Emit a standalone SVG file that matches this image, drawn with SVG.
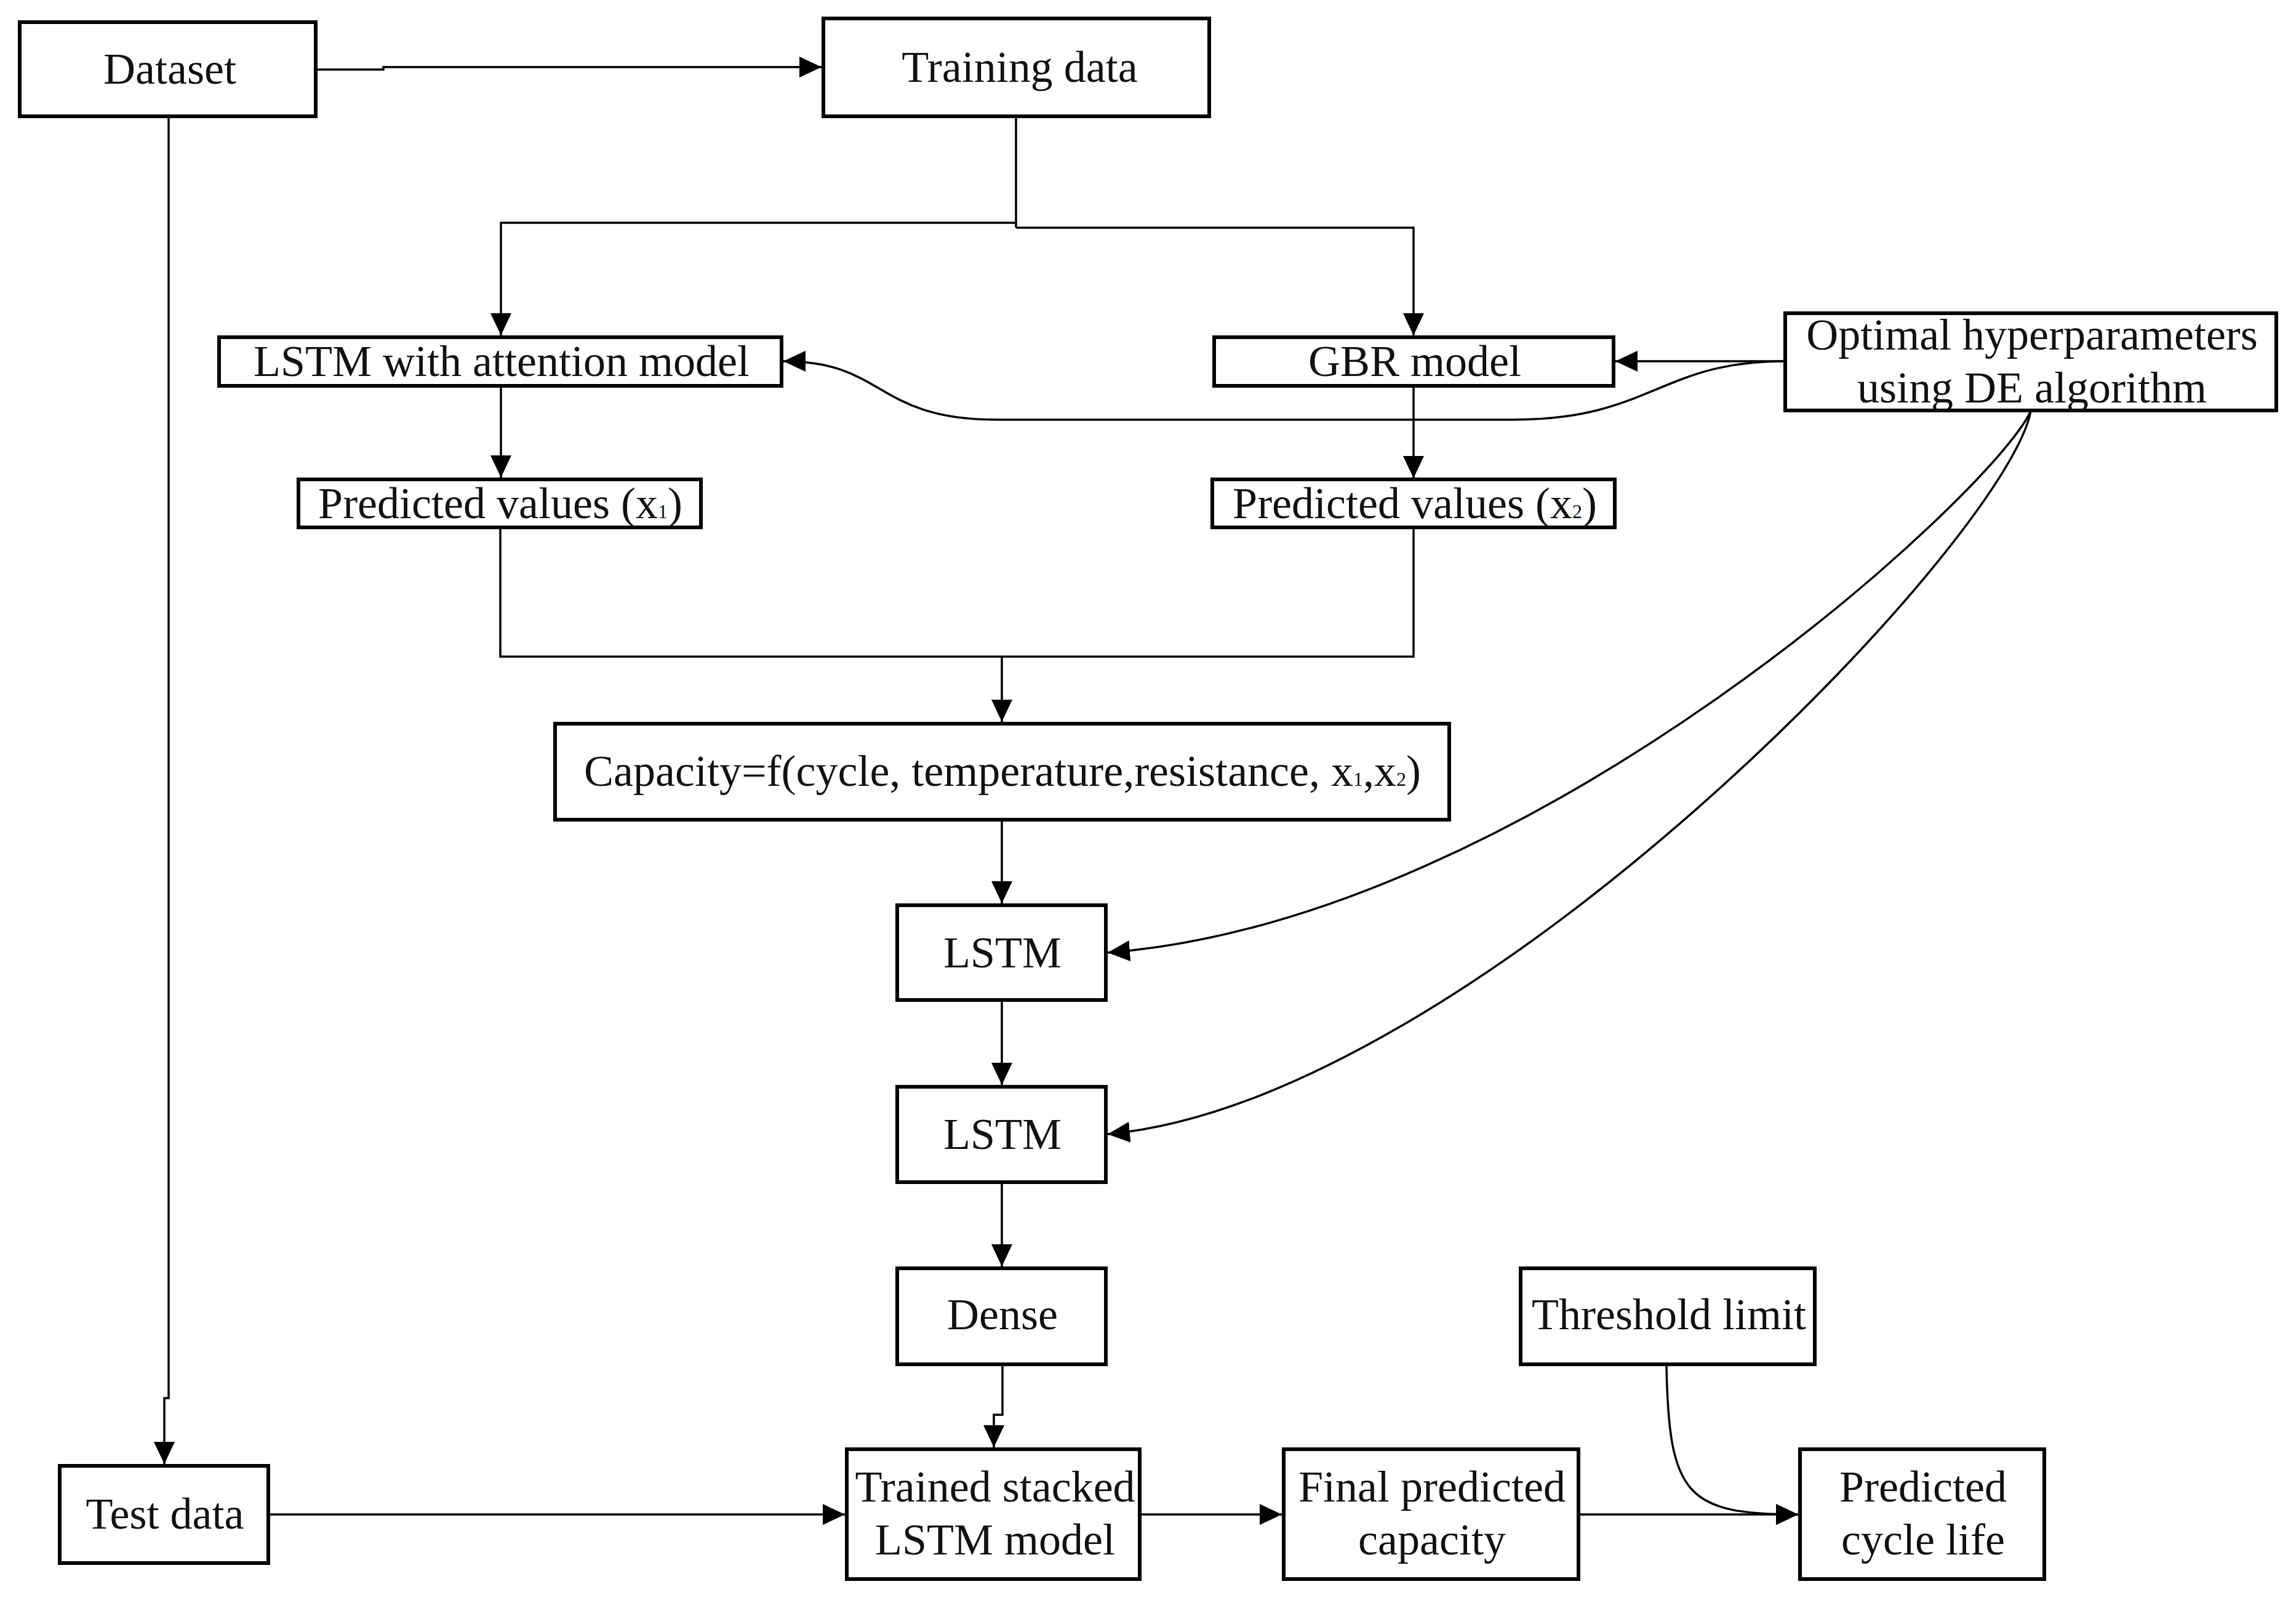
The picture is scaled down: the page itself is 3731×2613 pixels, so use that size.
<svg xmlns="http://www.w3.org/2000/svg" width="3731" height="2613" viewBox="0 0 3731 2613">
<style>
  .box { fill: #ffffff; stroke: #000000; stroke-width: 6; }
  .lbl { font-family: "Liberation Serif", "Times New Roman", serif; font-size: 72px; text-anchor: middle; fill: #111111; }
  .sub { font-size: 32px; }
  .conn { fill: none; stroke: #000000; stroke-width: 3.5; }
</style>
<defs>
  <marker id="arr" markerUnits="userSpaceOnUse" markerWidth="36" markerHeight="34" refX="36" refY="17" orient="auto">
    <path d="M0,0 L36,17 L0,34 Z" fill="#000000"/>
  </marker>
</defs>
<rect x="0" y="0" width="3731" height="2613" fill="#ffffff"/>

<g id="connectors">
  <path class="conn" d="M516,113 H623 V109 H1335" marker-end="url(#arr)"/>
  <path class="conn" d="M274,192 V2272 H267 V2379" marker-end="url(#arr)"/>
  <path class="conn" d="M1651,192 V370"/>
  <path class="conn" d="M1651,362 H814 V545" marker-end="url(#arr)"/>
  <path class="conn" d="M1651,370 H2297 V545" marker-end="url(#arr)"/>
  <path class="conn" d="M814,630 V776" marker-end="url(#arr)"/>
  <path class="conn" d="M2297,630 V777" marker-end="url(#arr)"/>
  <path class="conn" d="M813,860 V1067 H2297 V859"/>
  <path class="conn" d="M1628,1067 V1173" marker-end="url(#arr)"/>
  <path class="conn" d="M2898,587 H2625" marker-end="url(#arr)"/>
  <path class="conn" d="M2898,587 C2700,587 2680,682 2460,682 L1620,682 C1420,682 1440,587 1273,587" marker-end="url(#arr)"/>
  <path class="conn" d="M3300,668 C3240,800 2490,1495 1800,1548" marker-end="url(#arr)"/>
  <path class="conn" d="M3300,668 C3260,880 2390,1790 1800,1843" marker-end="url(#arr)"/>
  <path class="conn" d="M1628,1335 V1468" marker-end="url(#arr)"/>
  <path class="conn" d="M1628,1628 V1763" marker-end="url(#arr)"/>
  <path class="conn" d="M1628,1924 V2058" marker-end="url(#arr)"/>
  <path class="conn" d="M1629,2220 V2299 H1615 V2352" marker-end="url(#arr)"/>
  <path class="conn" d="M439,2461 H1373" marker-end="url(#arr)"/>
  <path class="conn" d="M1855,2461 H2083" marker-end="url(#arr)"/>
  <path class="conn" d="M2568,2461 H2922" marker-end="url(#arr)"/>
  <path class="conn" d="M2708,2220 C2712,2430 2740,2461 2922,2461" marker-end="url(#arr)"/>
</g>

<g id="dataset">
  <rect class="box" x="32" y="36" width="481" height="153"/>
  <text class="lbl" x="276" y="136">Dataset</text>
</g>
<g id="training-data">
  <rect class="box" x="1338" y="30" width="627" height="159"/>
  <text class="lbl" x="1657" y="133">Training data</text>
</g>
<g id="lstm-attention">
  <rect class="box" x="356" y="548" width="914" height="79"/>
  <text class="lbl" x="815" y="611">LSTM with attention model</text>
</g>
<g id="gbr-model">
  <rect class="box" x="1973" y="548" width="649" height="79"/>
  <text class="lbl" x="2299" y="611">GBR model</text>
</g>
<g id="optimal-hyperparameters">
  <rect class="box" x="2901" y="509" width="798" height="158"/>
  <text class="lbl" x="3302" y="568">Optimal hyperparameters</text>
  <text class="lbl" x="3302" y="654">using DE algorithm</text>
</g>
<g id="predicted-x1">
  <rect class="box" x="485" y="779" width="654" height="78"/>
  <text class="lbl" x="813" y="842">Predicted values (x<tspan class="sub">1</tspan>)</text>
</g>
<g id="predicted-x2">
  <rect class="box" x="1970" y="779" width="654" height="78"/>
  <text class="lbl" x="2299" y="842">Predicted values (x<tspan class="sub">2</tspan>)</text>
</g>
<g id="capacity">
  <rect class="box" x="902" y="1176" width="1453" height="156"/>
  <text class="lbl" x="1629" y="1277">Capacity=f(cycle, temperature,resistance, x<tspan class="sub">1</tspan>,x<tspan class="sub">2</tspan>)</text>
</g>
<g id="lstm-1">
  <rect class="box" x="1458" y="1471" width="339" height="154"/>
  <text class="lbl" x="1629" y="1572">LSTM</text>
</g>
<g id="lstm-2">
  <rect class="box" x="1458" y="1766" width="339" height="155"/>
  <text class="lbl" x="1629" y="1867">LSTM</text>
</g>
<g id="dense">
  <rect class="box" x="1458" y="2061" width="339" height="156"/>
  <text class="lbl" x="1629" y="2160">Dense</text>
</g>
<g id="threshold-limit">
  <rect class="box" x="2471" y="2061" width="478" height="156"/>
  <text class="lbl" x="2712" y="2160">Threshold limit</text>
</g>
<g id="test-data">
  <rect class="box" x="97" y="2382" width="339" height="158"/>
  <text class="lbl" x="268" y="2484">Test data</text>
</g>
<g id="trained-stacked-lstm">
  <rect class="box" x="1376" y="2355" width="476" height="211"/>
  <text class="lbl" x="1617" y="2440">Trained stacked</text>
  <text class="lbl" x="1617" y="2526">LSTM model</text>
</g>
<g id="final-predicted-capacity">
  <rect class="box" x="2086" y="2355" width="479" height="211"/>
  <text class="lbl" x="2327" y="2440">Final predicted</text>
  <text class="lbl" x="2327" y="2526">capacity</text>
</g>
<g id="predicted-cycle-life">
  <rect class="box" x="2925" y="2355" width="397" height="211"/>
  <text class="lbl" x="3125" y="2440">Predicted</text>
  <text class="lbl" x="3125" y="2526">cycle life</text>
</g>
</svg>
